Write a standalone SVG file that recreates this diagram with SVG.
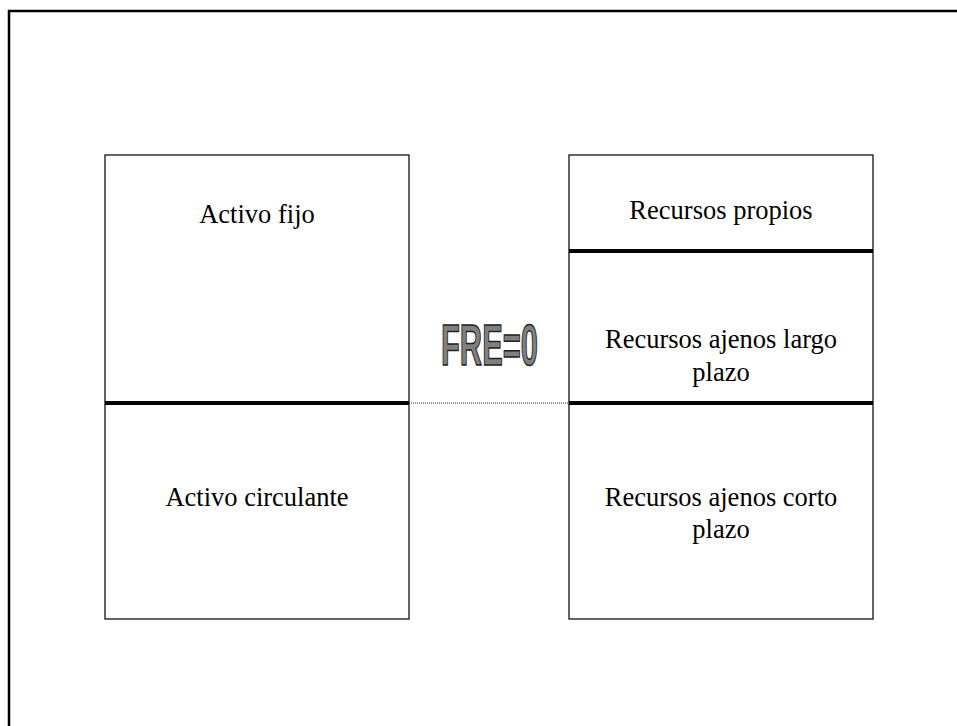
<svg xmlns="http://www.w3.org/2000/svg" width="957" height="726" viewBox="0 0 957 726">
<style>
.box{fill:#fff;stroke:#111;stroke-width:1.3}
.div{stroke:#000;stroke-width:4}
.lbl{font-family:"Liberation Serif","Times New Roman",serif;font-size:26.5px;fill:#000;text-anchor:middle}
.fre{font-family:"Liberation Sans","Arial",sans-serif;font-weight:bold;font-size:58px;fill:#808080;stroke:#222;stroke-width:1.5}
</style>
<rect width="957" height="726" fill="#fff"/>
<path d="M9,726 V11 H957" fill="none" stroke="#000" stroke-width="2.5"/>
<g id="activo">
<rect class="box" x="105" y="155" width="304" height="464"/>
<line class="div" x1="105" y1="403" x2="409" y2="403"/>
<text class="lbl" x="257" y="223">Activo fijo</text>
<text class="lbl" x="257" y="506">Activo circulante</text>
</g>
<g id="pasivo">
<rect class="box" x="569" y="155" width="304" height="464"/>
<line class="div" x1="569" y1="251" x2="873" y2="251"/>
<line class="div" x1="569" y1="403" x2="873" y2="403"/>
<text class="lbl" x="721" y="219">Recursos propios</text>
<text class="lbl" x="721" y="348">Recursos ajenos largo</text>
<text class="lbl" x="721" y="381">plazo</text>
<text class="lbl" x="721" y="506">Recursos ajenos corto</text>
<text class="lbl" x="721" y="538">plazo</text>
</g>
<g id="fre">
<text class="fre" x="441" y="364.5" textLength="97" lengthAdjust="spacingAndGlyphs">FRE=0</text>
</g>
<g id="connectors">
<line x1="409" y1="403" x2="569" y2="403" stroke="#333" stroke-width="1" stroke-dasharray="1,1"/>
</g>
</svg>
